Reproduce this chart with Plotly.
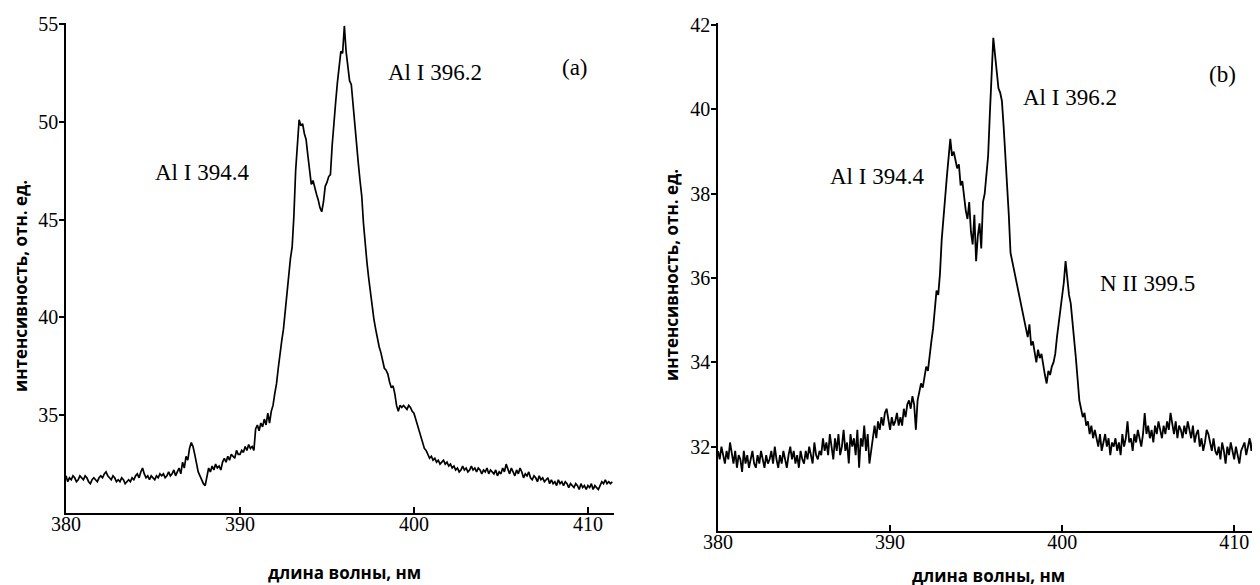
import plotly.graph_objects as go

# ---- data, wavelength grid 380.0 nm, step 0.1 nm ----
wl_start = 380.0
wl_step = 0.1

intensity_a = [
    31.9, 31.6, 31.8, 31.7, 31.9, 31.8, 31.6, 31.7, 31.9, 31.8,
    31.7, 31.9, 31.8, 31.6, 31.5, 31.7, 31.8, 31.7, 31.6, 31.8,
    31.9, 31.8, 32.0, 32.1, 31.9, 31.8, 31.7, 31.9, 31.8, 31.6,
    31.7, 31.6, 31.8, 31.7, 31.5, 31.6, 31.7, 31.6, 31.8, 31.7,
    31.9, 32.0, 31.8, 32.1, 32.3, 32.0, 31.8, 31.9, 31.7, 31.9,
    31.8, 31.7, 31.9, 31.8, 32.0, 31.9, 32.0, 31.8, 31.9, 32.1,
    31.9, 32.0, 32.2, 31.9, 32.1, 32.3, 32.0, 32.6, 32.3, 32.9,
    32.7, 33.3, 33.6, 33.4, 33.0, 32.5, 32.1, 31.9, 31.7, 31.5,
    31.4, 31.9, 32.3, 32.1, 32.4, 32.2, 32.5, 32.3, 32.4, 32.2,
    32.6, 32.8, 32.6, 32.9, 32.7, 33.0, 32.9, 32.8, 33.2, 33.0,
    33.0, 33.2, 33.1, 33.4, 33.2, 33.5, 33.3, 33.4, 33.2, 34.3,
    34.5, 34.2, 34.6, 34.4, 34.8, 34.5, 35.1, 34.6, 35.2, 35.5,
    36.1, 36.6, 37.4, 38.2, 38.8, 39.4, 40.3, 41.2, 42.2, 43.0,
    43.6, 45.2, 47.5, 48.8, 50.1, 49.8, 49.9, 49.4, 49.1, 48.3,
    47.6, 46.8, 47.0, 46.6, 46.3, 46.0, 45.6, 45.4, 45.9, 46.7,
    46.9, 47.2, 47.3, 48.8, 50.2, 51.0, 52.0, 53.0, 53.6, 53.5,
    54.9, 53.6, 52.8, 52.1, 51.9, 50.8, 49.8, 48.6, 47.9, 47.0,
    46.2, 44.8, 43.7, 42.8, 42.0, 41.2, 40.5, 39.9, 39.4, 38.9,
    38.5, 38.2, 37.7, 37.4, 37.3, 37.1, 36.7, 36.4, 36.5, 36.1,
    35.5, 35.2, 35.5, 35.4, 35.5, 35.4, 35.3, 35.5, 35.4, 35.2,
    35.1, 34.8, 34.5, 34.2, 34.0, 33.6, 33.3, 33.2, 33.0, 32.8,
    32.9, 32.7, 32.8, 32.6, 32.7, 32.5, 32.6, 32.7, 32.5, 32.6,
    32.4, 32.5, 32.3, 32.4, 32.2, 32.3, 32.1, 32.2, 32.4, 32.2,
    32.3, 32.1, 32.2, 32.4, 32.2, 32.3, 32.1, 32.3, 32.2, 32.0,
    32.2, 32.1, 32.3, 32.0, 32.2, 32.1, 32.0, 32.2, 31.9, 32.1,
    32.0, 32.3, 32.1, 32.5, 32.2, 32.0, 32.3, 32.1, 31.9, 32.2,
    32.0, 32.3, 32.1, 31.8, 32.0, 31.9, 32.1, 31.8, 31.7, 31.9,
    31.8, 31.6, 31.9, 31.7, 31.8, 31.6, 31.7, 31.8, 31.5, 31.7,
    31.5, 31.6, 31.4, 31.7, 31.5, 31.6, 31.4, 31.6, 31.5, 31.3,
    31.5, 31.4, 31.3, 31.5, 31.4, 31.2, 31.5, 31.3, 31.4, 31.2,
    31.4, 31.3, 31.5, 31.2, 31.4, 31.3, 31.2, 31.4, 31.6, 31.5,
    31.7, 31.5, 31.6, 31.5, 31.6,
]

intensity_b = [
    31.9, 31.7, 32.0, 31.8, 31.6, 31.9, 31.7, 32.1, 31.8, 31.6,
    31.9, 31.5, 31.8, 31.7, 31.4, 31.9, 31.6, 31.8, 31.5, 31.7,
    31.9, 31.6, 31.5, 31.8, 31.6, 31.9, 31.7, 31.5, 31.8, 31.6,
    31.7, 31.9, 31.6, 32.0, 31.7, 31.5, 31.8, 31.6, 31.9, 31.7,
    31.5, 31.8, 32.0, 31.7, 31.9, 31.6, 31.8, 31.5, 31.9, 31.7,
    31.6, 31.9, 31.7, 32.0, 31.8, 31.6, 32.1, 31.8, 31.7, 31.9,
    31.8, 32.2, 31.9, 32.1, 31.8, 32.3, 32.0, 31.7, 32.2, 31.9,
    32.3, 31.8, 32.0, 32.4, 31.9, 32.1, 31.6, 32.3, 32.0, 32.2,
    31.8, 32.4, 31.5, 32.2, 32.0, 32.5, 31.9, 32.3, 31.6, 31.9,
    32.3, 32.5, 32.2, 32.6, 32.4, 32.7, 32.5, 32.8, 32.9, 32.6,
    32.4, 32.7, 32.5, 32.6, 32.8, 32.5, 32.7, 32.5, 32.9, 32.7,
    33.0, 33.1, 32.9, 33.2, 33.0, 32.4, 33.1, 33.3, 33.5, 33.4,
    33.7, 33.9, 33.8, 34.2, 34.5, 34.8, 35.2, 35.7, 35.6, 36.1,
    36.9, 37.5, 37.9, 38.4, 38.9, 39.3, 38.9, 39.0, 38.8, 38.6,
    38.7, 38.2, 38.3, 37.9, 37.6, 37.4, 37.8, 37.1, 36.8, 37.5,
    36.4, 37.0, 37.3, 36.7, 37.8, 38.0, 38.5, 38.9, 39.9, 40.9,
    41.7, 41.3, 40.9, 40.5, 40.4, 40.2, 39.6, 38.9, 38.4, 37.5,
    36.6, 36.4, 36.2, 36.0, 35.8, 35.6, 35.4, 35.2, 35.0, 34.8,
    34.6, 34.9, 34.4, 34.5, 34.2, 34.0, 34.3, 34.1, 34.2, 33.9,
    33.7, 33.5, 33.8, 33.7, 33.9, 34.0, 34.2, 34.6, 34.9, 35.2,
    35.6, 35.9, 36.4, 35.9, 35.6, 35.4, 35.0, 34.6, 34.1, 33.6,
    33.1, 32.9, 32.7, 32.8, 32.5, 32.6, 32.3, 32.5, 32.2, 32.4,
    32.2, 32.0, 32.3, 31.9, 32.1, 32.3, 32.0, 32.2, 31.8, 32.1,
    32.0, 32.2, 31.9, 32.1, 31.8, 32.3, 32.0, 32.2, 32.6, 32.1,
    32.2, 31.9, 32.3, 32.1, 32.4, 32.2, 32.0, 32.3, 32.8, 32.3,
    32.5, 32.2, 32.4, 32.1, 32.5, 32.3, 32.6, 32.4, 32.2, 32.5,
    32.3, 32.6, 32.4, 32.8, 32.5, 32.3, 32.6, 32.2, 32.5, 32.4,
    32.2, 32.5, 32.3, 32.6, 32.4, 32.2, 32.5, 32.1, 32.3, 32.4,
    32.0, 32.2, 31.9, 32.1, 32.4, 32.3, 32.1, 31.9, 32.2, 31.9,
    31.8, 32.0, 31.7, 32.1, 31.9, 31.6, 32.0, 31.8, 32.1, 31.9,
    31.7, 32.0, 31.8, 31.6, 31.9, 32.0, 32.1, 31.8, 32.0, 32.2,
    31.9, 32.2, 32.0, 32.3,
]

x_ticks = [380, 390, 400, 410]
y_ticks_a = [35, 40, 45, 50, 55]
y_ticks_b = [32, 34, 36, 38, 40, 42]

labels_a = ["(a)", "Al I 396.2", "Al I 394.4"]
labels_b = ["(b)", "Al I 396.2", "Al I 394.4", "N II 399.5"]

y_title = "интенсивность, отн. ед."
x_title = "длина волны, нм"

wl_a = [round(wl_start + wl_step * i, 2) for i in range(len(intensity_a))]
wl_b = [round(wl_start + wl_step * i, 2) for i in range(len(intensity_b))]

W, H = 1260, 585
OFF = 8  # page body margin offset in the browser
def px(x):
    return (x - OFF) / W
def py(y):
    return 1 - (y - OFF) / H

fig = go.Figure()
fig.add_trace(go.Scatter(x=wl_a, y=intensity_a, mode="lines",
                         line=dict(color="black", width=1.7), xaxis="x", yaxis="y",
                         showlegend=False))
fig.add_trace(go.Scatter(x=wl_b, y=intensity_b, mode="lines",
                         line=dict(color="black", width=1.8), xaxis="x2", yaxis="y2",
                         showlegend=False))

serif = "Liberation Serif, Times New Roman, serif"
sans = "Open Sans, Noto Sans, sans-serif"

xaxis_common = dict(showgrid=False, zeroline=False, showline=True, linecolor="black",
                    linewidth=2, ticks="inside", ticklen=6, tickwidth=2, tickcolor="black",
                    automargin=False, ticklabelstandoff=-8,
                    tickvals=x_ticks, tickfont=dict(family=serif, size=20, color="black"))
yaxis_common = dict(showgrid=False, zeroline=False, showline=True, linecolor="black",
                    linewidth=1.5, ticks="outside", ticklen=5, tickwidth=1.5, tickcolor="black",
                    automargin=False, ticklabelstandoff=-3,
                    tickfont=dict(family=serif, size=20, color="black"))

fig.update_layout(
    width=W, height=H,
    margin=dict(l=0, r=0, t=0, b=0, pad=0, autoexpand=False),
    paper_bgcolor="white", plot_bgcolor="white",
    xaxis=dict(domain=[px(66), px(614)], range=[380, 411.5], anchor="y", **xaxis_common),
    yaxis=dict(domain=[py(513), py(23)], range=[30, 55.05], anchor="x",
               tickvals=y_ticks_a, **yaxis_common),
    xaxis2=dict(domain=[px(718), px(1260)], range=[380, 411.5], anchor="y2", **xaxis_common),
    yaxis2=dict(domain=[py(531), py(23)], range=[30, 42.05], anchor="x2",
                tickvals=y_ticks_b, **yaxis_common),
)

ann = []
def txt(x, y, t, size=23, family=serif, bold=False, angle=0):
    ann.append(dict(x=px(x), y=py(y), xref="paper", yref="paper", text=("<b>%s</b>" % t) if bold else t,
                    showarrow=False, xanchor="center", yanchor="middle", textangle=angle,
                    font=dict(family=family, size=size, color="black")))

# panel (a) labels
txt(575, 68, labels_a[0])
txt(435, 72, labels_a[1])
txt(202, 172, labels_a[2])
# panel (b) labels
txt(1222, 74, labels_b[0])
txt(1070, 97, labels_b[1])
txt(877, 177, labels_b[2])
txt(1147, 283, labels_b[3])

# axis titles
txt(20, 286, y_title, size=17, family=sans, bold=True, angle=-90)
txt(672, 275, y_title, size=17, family=sans, bold=True, angle=-90)
txt(344, 572, x_title, size=17, family=sans, bold=True)
txt(988, 575, x_title, size=17, family=sans, bold=True)

fig.update_layout(annotations=ann)
fig.write_html("out.html")
